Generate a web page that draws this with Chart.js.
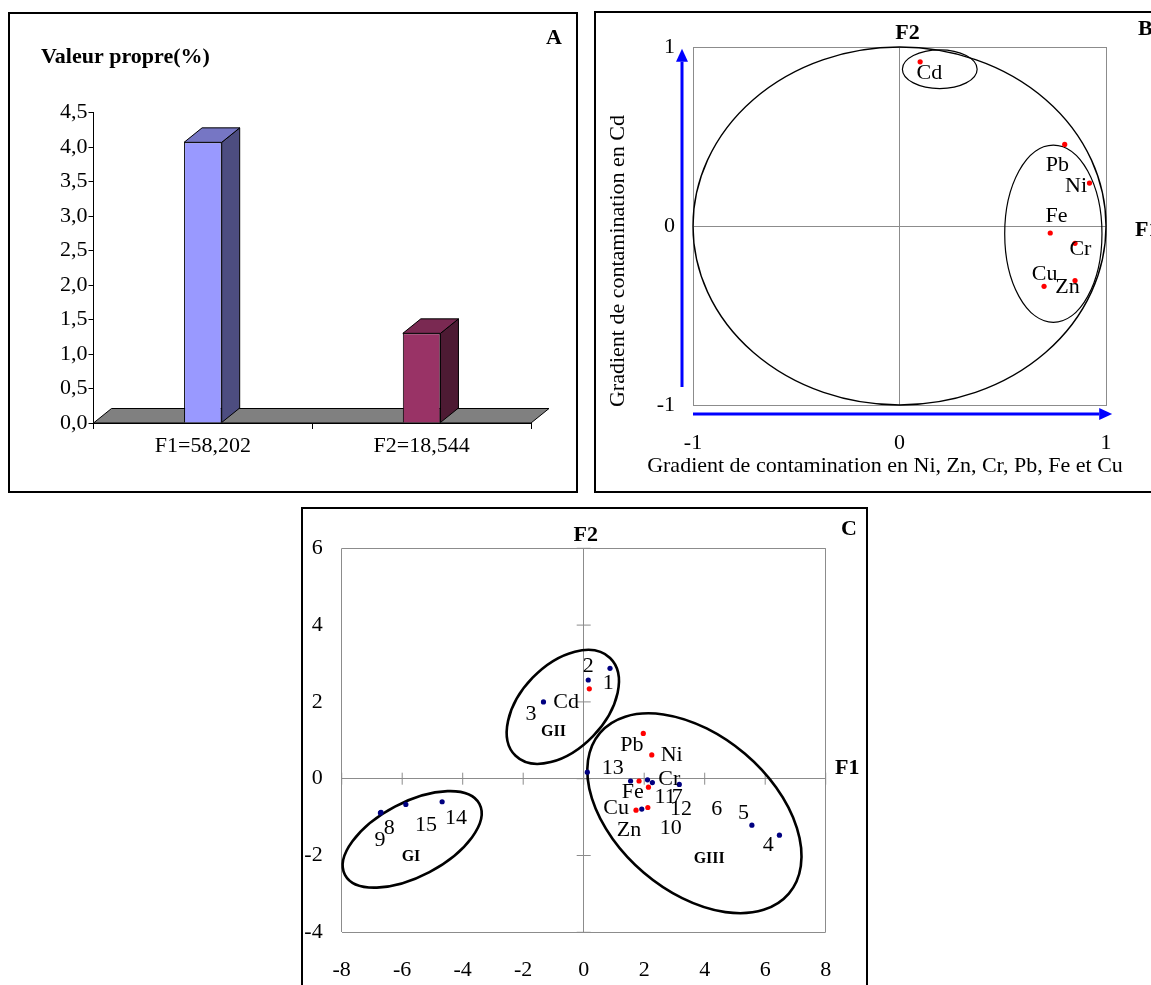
<!DOCTYPE html>
<html>
<head>
<meta charset="utf-8">
<script src="https://cdn.jsdelivr.net/npm/chart.js@4.4.1/dist/chart.umd.min.js"></script>
<style>
  body { margin: 0; background: #fff; overflow: hidden; width: 1151px; height: 985px; position: relative; }
  .frame { position: absolute; border: 2px solid #000; box-sizing: border-box; }
  canvas { position: absolute; }
</style>
</head>
<body>
<div class="frame" style="left:8px;top:12px;width:570px;height:481px"></div>
<div class="frame" style="left:594px;top:11px;width:620px;height:482px"></div>
<div class="frame" style="left:301px;top:507px;width:567px;height:520px"></div>
<canvas id="chartA" width="566" height="476" style="left:10px;top:14px"></canvas>
<canvas id="chartB" width="555" height="477" style="left:596px;top:13px"></canvas>
<canvas id="chartC" width="563" height="476" style="left:303px;top:509px"></canvas>
<script>
const SERIF = '"Liberation Serif", "Times New Roman", serif';

// A - valeurs propres
const axesA = ['F1=58,202', 'F2=18,544'];
const eigenA = [4.07, 1.30];

// B - cercle des correlations
const metals = ['Cd', 'Pb', 'Ni', 'Fe', 'Cr', 'Cu', 'Zn'];
const corrF1 = [0.10, 0.80, 0.92, 0.73, 0.85, 0.70, 0.85];
const corrF2 = [0.917, 0.456, 0.24, -0.039, -0.097, -0.337, -0.305];
const corrLabelX = [0.145, 0.764, 0.855, 0.76, 0.876, 0.703, 0.814];
const corrLabelY = [0.854, 0.342, 0.22, 0.054, -0.132, -0.268, -0.344];

// C - plan factoriel F1 x F2
const sites = ['1', '2', '3', '4', '5', '6', '7', '8', '9', '10', '11', '12', '13', '14', '15'];
const siteF1 = [0.87, 0.15, -1.33, 6.47, 5.56, 3.16, 2.27, -6.70, -6.72, 1.92, 2.11, 1.55, 0.12, -4.68, -5.88];
const siteF2 = [2.875, 2.57, 2.0, -1.47, -1.21, -0.15, -0.10, -0.875, -0.89, -0.79, -0.03, -0.06, 0.17, -0.60, -0.67];
const siteLabelX = [0.81, 0.15, -1.74, 6.10, 5.28, 4.40, 3.09, -6.43, -6.73, 2.88, 2.69, 3.22, 0.96, -4.22, -5.21];
const siteLabelY = [2.48, 2.92, 1.68, -1.73, -0.90, -0.79, -0.47, -1.29, -1.60, -1.29, -0.47, -0.79, 0.27, -1.03, -1.21];
const metalF1 = [0.185, 1.97, 2.25, 1.83, 2.14, 1.73, 2.12];
const metalF2 = [2.34, 1.18, 0.62, -0.06, -0.22, -0.82, -0.75];
const metalLabelX = [-0.58, 1.59, 2.91, 1.62, 2.83, 1.07, 1.50];
const metalLabelY = [2.0, 0.88, 0.62, -0.34, -0.01, -0.77, -1.35];
const groups = ['GI', 'GII', 'GIII'];
const groupX = [-5.71, -1.0, 4.15];
const groupY = [-2.03, 1.21, -2.10];

// ellipses drawn around the groups (centre in data units, half axes in px, angle in degrees)
const groupRings = [
  { x: -5.67, y: -1.58, a: 76, b: 37, rot: -27.8 },
  { x: -0.69, y: 1.87, a: 68, b: 42, rot: -46 },
  { x: 3.66, y: -0.90, a: 124, b: 78, rot: 40.4 }
];
// ellipses in B, in data units
const corrRings = [
  { x: 0, y: 0, rx: 1, ry: 1 },
  { x: 0.195, y: 0.876, rx: 0.181, ry: 0.108 },
  { x: 0.745, y: -0.043, rx: 0.2355, ry: 0.495 }
];

const font = (size, bold) => ({ family: SERIF, size: size, weight: bold ? 'bold' : 'normal' });

function text(ctx, str, x, y, size, bold, align) {
  ctx.save();
  ctx.font = (bold ? 'bold ' : '') + size + 'px ' + SERIF;
  ctx.fillStyle = '#000';
  ctx.textAlign = align || 'center';
  ctx.textBaseline = 'middle';
  ctx.fillText(str, x, y);
  ctx.restore();
}

// ---------- A ----------
const depth = { dx: 18, dy: -14.5 };
const sideColors = ['#4D4D80', '#4D1A33'];
const topColors = ['#7676C4', '#7A2952'];

const bars3d = {
  id: 'bars3d',
  beforeDatasetsDraw(chart) {
    const { ctx, chartArea: a } = chart;
    ctx.save();
    ctx.beginPath();
    ctx.moveTo(a.left, a.bottom);
    ctx.lineTo(a.right, a.bottom);
    ctx.lineTo(a.right + depth.dx, a.bottom + depth.dy);
    ctx.lineTo(a.left + depth.dx, a.bottom + depth.dy);
    ctx.closePath();
    ctx.fillStyle = '#808080';
    ctx.fill();
    ctx.strokeStyle = '#000';
    ctx.lineWidth = 1;
    ctx.stroke();
    ctx.restore();
  },
  afterDatasetsDraw(chart) {
    const ctx = chart.ctx;
    chart.getDatasetMeta(0).data.forEach((bar, i) => {
      const p = bar.getProps(['x', 'y', 'base', 'width'], true);
      const l = p.x - p.width / 2, r = p.x + p.width / 2;
      ctx.save();
      ctx.strokeStyle = '#000';
      ctx.lineWidth = 1;
      ctx.beginPath();
      ctx.moveTo(r, p.y);
      ctx.lineTo(r + depth.dx, p.y + depth.dy);
      ctx.lineTo(r + depth.dx, p.base + depth.dy);
      ctx.lineTo(r, p.base);
      ctx.closePath();
      ctx.fillStyle = sideColors[i];
      ctx.fill();
      ctx.stroke();
      ctx.beginPath();
      ctx.moveTo(l, p.y);
      ctx.lineTo(r, p.y);
      ctx.lineTo(r + depth.dx, p.y + depth.dy);
      ctx.lineTo(l + depth.dx, p.y + depth.dy);
      ctx.closePath();
      ctx.fillStyle = topColors[i];
      ctx.fill();
      ctx.stroke();
      ctx.restore();
    });
  },
  afterDraw(chart) {
    text(chart.ctx, 'Valeur propre(%)', 31, 43, 22, true, 'left');
    text(chart.ctx, 'A', 544, 24, 22, true);
  }
};

new Chart(document.getElementById('chartA'), {
  type: 'bar',
  data: {
    labels: axesA,
    datasets: [{
      data: eigenA,
      backgroundColor: ['#9999FF', '#993366'],
      borderColor: '#000',
      borderWidth: 1,
      barPercentage: 0.172,
      categoryPercentage: 1
    }]
  },
  options: {
    responsive: false,
    animation: false,
    events: [],
    layout: { padding: { left: 13.5, right: 45, top: 98.7, bottom: 7 } },
    plugins: { legend: { display: false }, tooltip: { enabled: false } },
    scales: {
      x: {
        grid: { offset: true, drawOnChartArea: false, tickLength: 6, color: '#000' },
        border: { color: '#000' },
        ticks: { font: font(22), color: '#000', padding: 4 },
        afterFit: s => { s.height = 60; }
      },
      y: {
        min: 0,
        max: 4.5,
        ticks: { stepSize: 0.5, font: font(22), color: '#000', padding: 1,
          callback: v => v.toFixed(1).replace('.', ',') },
        grid: { drawOnChartArea: false, tickLength: 5, color: '#000' },
        border: { color: '#000' },
        afterFit: s => { s.width = 70; }
      }
    }
  },
  plugins: [bars3d]
});

// ---------- B ----------
function arrow(ctx, x1, y1, x2, y2) {
  const ang = Math.atan2(y2 - y1, x2 - x1);
  const len = 13, half = 6;
  ctx.save();
  ctx.strokeStyle = '#0000FF';
  ctx.fillStyle = '#0000FF';
  ctx.lineWidth = 3;
  ctx.beginPath();
  ctx.moveTo(x1, y1);
  ctx.lineTo(x2 - len * Math.cos(ang), y2 - len * Math.sin(ang));
  ctx.stroke();
  ctx.beginPath();
  ctx.moveTo(x2, y2);
  ctx.lineTo(x2 - len * Math.cos(ang) - half * Math.sin(ang), y2 - len * Math.sin(ang) + half * Math.cos(ang));
  ctx.lineTo(x2 - len * Math.cos(ang) + half * Math.sin(ang), y2 - len * Math.sin(ang) - half * Math.cos(ang));
  ctx.closePath();
  ctx.fill();
  ctx.restore();
}

const circlePlugin = {
  id: 'circlePlugin',
  beforeDatasetsDraw(chart) {
    const { ctx, chartArea: a } = chart;
    const xs = chart.scales.x, ys = chart.scales.y;
    ctx.save();
    ctx.strokeStyle = '#000';
    corrRings.forEach((e, i) => {
      const cx = xs.getPixelForValue(e.x), cy = ys.getPixelForValue(e.y);
      const rx = Math.abs(xs.getPixelForValue(e.x + e.rx) - cx);
      const ry = Math.abs(ys.getPixelForValue(e.y + e.ry) - cy);
      ctx.lineWidth = i === 0 ? 1.4 : 1.2;
      ctx.beginPath();
      ctx.ellipse(cx, cy, rx, ry, 0, 0, Math.PI * 2);
      ctx.stroke();
    });
    ctx.restore();
    arrow(ctx, a.left - 11, ys.getPixelForValue(-0.9), a.left - 11, ys.getPixelForValue(0.99));
    arrow(ctx, xs.getPixelForValue(-1.0), a.bottom + 9, xs.getPixelForValue(1.03), a.bottom + 9);
  },
  afterDatasetsDraw(chart) {
    const ctx = chart.ctx;
    const xs = chart.scales.x, ys = chart.scales.y;
    metals.forEach((m, i) => {
      text(ctx, m, xs.getPixelForValue(corrLabelX[i]), ys.getPixelForValue(corrLabelY[i]), 22);
    });
    text(ctx, 'Gradient de contamination en Ni, Zn, Cr, Pb, Fe et Cu', 289, 453, 22);
    ctx.save();
    ctx.translate(22, 248);
    ctx.rotate(-Math.PI / 2);
    text(ctx, 'Gradient de contamination en Cd', 0, 0, 22);
    ctx.restore();
    text(ctx, 'F2', xs.getPixelForValue(0) + 8, 20, 22, true);
    text(ctx, 'F1', 539, 217, 22, true, 'left');
    text(ctx, 'B', 542, 16, 22, true, 'left');
  }
};

new Chart(document.getElementById('chartB'), {
  type: 'scatter',
  data: {
    datasets: [{
      data: metals.map((m, i) => ({ x: corrF1[i], y: corrF2[i] })),
      backgroundColor: '#FF0000',
      borderWidth: 0,
      pointRadius: 2.6
    }]
  },
  options: {
    responsive: false,
    animation: false,
    events: [],
    layout: { padding: { left: 37, right: 45, top: 34, bottom: 25 } },
    plugins: { legend: { display: false }, tooltip: { enabled: false } },
    scales: {
      x: {
        min: -1, max: 1,
        ticks: { stepSize: 1, font: font(22), color: '#000', padding: 25 },
        grid: { color: '#8C8C8C', drawTicks: false },
        border: { color: '#8C8C8C' },
        afterFit: s => { s.height = 60; }
      },
      y: {
        min: -1, max: 1,
        ticks: { stepSize: 1, font: font(22), color: '#000', padding: 18 },
        grid: { color: '#8C8C8C', drawTicks: false },
        border: { color: '#8C8C8C' },
        afterFit: s => { s.width = 60; }
      }
    }
  },
  plugins: [circlePlugin]
});

// ---------- C ----------
const gridAt = (vals) => c => vals.includes(c.tick.value) ? '#8C8C8C' : 'rgba(0,0,0,0)';

const biplotPlugin = {
  id: 'biplotPlugin',
  beforeDatasetsDraw(chart) {
    const ctx = chart.ctx;
    const xs = chart.scales.x, ys = chart.scales.y;
    const x0 = xs.getPixelForValue(0), y0 = ys.getPixelForValue(0);
    ctx.save();
    ctx.strokeStyle = '#8C8C8C';
    ctx.lineWidth = 1;
    ctx.beginPath();
    xs.ticks.forEach(t => {
      const px = xs.getPixelForValue(t.value);
      ctx.moveTo(px, y0 - 6);
      ctx.lineTo(px, y0 + 6);
    });
    ys.ticks.forEach(t => {
      const py = ys.getPixelForValue(t.value);
      ctx.moveTo(x0 - 7, py);
      ctx.lineTo(x0 + 7, py);
    });
    ctx.stroke();
    ctx.strokeStyle = '#000';
    ctx.lineWidth = 2.6;
    groupRings.forEach(e => {
      ctx.beginPath();
      ctx.ellipse(xs.getPixelForValue(e.x), ys.getPixelForValue(e.y), e.a, e.b, e.rot * Math.PI / 180, 0, Math.PI * 2);
      ctx.stroke();
    });
    ctx.restore();
  },
  afterDatasetsDraw(chart) {
    const ctx = chart.ctx;
    const xs = chart.scales.x, ys = chart.scales.y;
    sites.forEach((s, i) => {
      text(ctx, s, xs.getPixelForValue(siteLabelX[i]), ys.getPixelForValue(siteLabelY[i]), 22);
    });
    metals.forEach((m, i) => {
      text(ctx, m, xs.getPixelForValue(metalLabelX[i]), ys.getPixelForValue(metalLabelY[i]), 22);
    });
    groups.forEach((g, i) => {
      text(ctx, g, xs.getPixelForValue(groupX[i]), ys.getPixelForValue(groupY[i]), 16, true);
    });
    text(ctx, 'F2', xs.getPixelForValue(0) + 2, 26, 22, true);
    text(ctx, 'F1', 532, 259, 22, true, 'left');
    text(ctx, 'C', 538, 20, 22, true, 'left');
  }
};

new Chart(document.getElementById('chartC'), {
  type: 'scatter',
  data: {
    datasets: [
      {
        data: sites.map((s, i) => ({ x: siteF1[i], y: siteF2[i] })),
        backgroundColor: '#000080',
        borderWidth: 0,
        pointRadius: 2.6
      },
      {
        data: metals.map((m, i) => ({ x: metalF1[i], y: metalF2[i] })),
        backgroundColor: '#FF0000',
        borderWidth: 0,
        pointRadius: 2.6
      }
    ]
  },
  options: {
    responsive: false,
    animation: false,
    events: [],
    layout: { padding: { left: 0, right: 40.3, top: 39.3, bottom: 0 } },
    plugins: { legend: { display: false }, tooltip: { enabled: false } },
    scales: {
      x: {
        min: -8, max: 8,
        ticks: { stepSize: 2, font: font(22), color: '#000', padding: 25 },
        grid: { color: gridAt([-8, 0, 8]), drawTicks: false },
        border: { display: false },
        afterFit: s => { s.height = 52.7; }
      },
      y: {
        min: -4, max: 6,
        ticks: { stepSize: 2, font: font(22), color: '#000', padding: 19 },
        grid: { color: gridAt([-4, 0, 6]), drawTicks: false },
        border: { display: false },
        afterFit: s => { s.width = 38.7; }
      }
    }
  },
  plugins: [biplotPlugin]
});
</script>
</body>
</html>
